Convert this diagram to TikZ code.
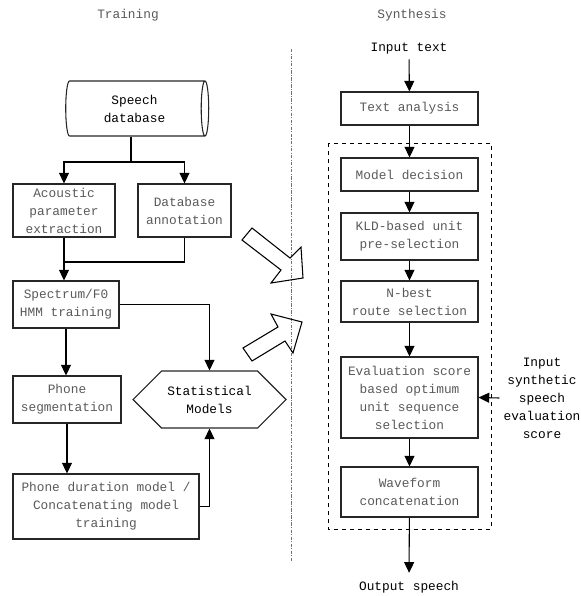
\documentclass[tikz,border=0pt]{standalone}
\usepackage{fontspec}
\setmainfont{Liberation Mono}
\usetikzlibrary{positioning,shapes.geometric,shapes.symbols,arrows.meta}

\begin{document}
\begin{tikzpicture}[x=0.75pt,y=-0.75pt,
    font=\fontsize{9.6}{13.5}\selectfont,
    procbox/.style={draw=black!85,line width=0.8pt,rectangle,align=center,text=black!65,inner sep=1pt},
    arr/.style={-{Triangle[width=7.5pt,length=8pt]},line width=0.8pt},
    link/.style={line width=0.8pt}]
    \useasboundingbox (0,0) rectangle (581,596);

    % Headings and separator
    \node[text=black!65] (train) at (128,15) {Training};
    \node[text=black!65] (synth) at (412,15) {Synthesis};
    \draw[black!55,line width=0.7pt,dash pattern=on 2.5pt off 1pt on 0.8pt off 1pt] (291,49) -- (291,562);

    % Nodes (training)
    \node[cylinder,draw=black!85,line width=0.8pt,aspect=0.25,align=center,
          minimum width=41.25pt,minimum height=107.25pt,inner sep=1pt] (db) at (134.5,108.5) {Speech\\database};
    \node[procbox,minimum width=76.5pt,minimum height=39.75pt] (acoustic) at (64,210.5) {Acoustic\\parameter\\extraction};
    \node[procbox,minimum width=69.75pt,minimum height=39.75pt] (annot) at (184.5,210.5) {Database\\annotation};
    \node[procbox,minimum width=79.5pt,minimum height=35.25pt] (spec) at (66,304.5) {Spectrum/F0\\HMM training};
    \node[procbox,minimum width=81pt,minimum height=35.25pt] (seg) at (67,399.5) {Phone\\segmentation};
    \node[procbox,minimum width=139.5pt,minimum height=48.75pt] (dur) at (106,506.5) {Phone duration model /\\Concatenating model\\training};
    \node[signal,signal to=west and east,signal pointer angle=90,draw=black!85,line width=0.8pt,align=center,
          minimum width=114.75pt,minimum height=42.75pt,inner sep=1pt] (stat) at (209.5,399.5) {Statistical\\Models};

    \coordinate (split) at (131,162);
    \coordinate (merge) at (64,262);

    % Nodes (synthesis)
    \node (intext) at (409,49) {Input text};
    \node[procbox,minimum width=102.75pt,minimum height=24.75pt] (ta) at (409.5,108.5) {Text analysis};
    \node[procbox,minimum width=102.75pt,minimum height=24.75pt] (model) at (409.5,174.5) {Model decision};
    \node[procbox,minimum width=102.75pt,minimum height=35.25pt] (kld) at (409.5,236.5) {KLD-based unit\\pre-selection};
    \node[procbox,minimum width=102.75pt,minimum height=30.75pt] (nbest) at (409.5,301.5) {N-best\\route selection};
    \node[procbox,minimum width=102.75pt,minimum height=60.75pt] (eval) at (409.5,397.5) {Evaluation score\\based optimum\\unit sequence\\selection};
    \node[procbox,minimum width=102.75pt,minimum height=37.5pt] (wave) at (409.5,492) {Waveform\\concatenation};
    \node[inner sep=6pt] (outsp) at (409,587) {Output speech};
    \node[align=center,inner sep=3pt] (score) at (542,398) {Input\\synthetic\\speech\\evaluation\\score};
    \draw[dashed,line width=0.7pt] (328,143) rectangle (491,529);

    % Arrows (training)
    \draw[link] (split |- db.south) -- (split);
    \draw[arr] (split) -| (acoustic.north);
    \draw[arr] (split) -| (annot.north);
    \draw[arr] (acoustic.south) -- (acoustic.south |- spec.north);
    \draw[link] (annot.south) |- (merge);
    \draw[arr] (spec.south) -- (spec.south |- seg.north);
    \draw[arr] (seg.south) -- (seg.south |- dur.north);
    \draw[arr] (spec.east) -| (stat.north);
    \draw[arr] (dur.east) -| (stat.south);

    % Hollow arrows to synthesis
    \draw[line width=0.8pt] (252,228) -- (290,258) -- (301,247) -- (303,278) -- (271,283) -- (281,270) -- (242,240) -- cycle;
    \draw[line width=0.8pt] (243,348) -- (278,327) -- (271,314) -- (302,322) -- (293,353) -- (285,341) -- (252,361) -- cycle;

    % Arrows (synthesis)
    \draw[arr] (intext) -- (ta);
    \draw[arr] (ta) -- (model);
    \draw[arr] (model) -- (kld);
    \draw[arr] (kld) -- (nbest);
    \draw[arr] (nbest) -- (eval);
    \draw[arr] (eval) -- (wave);
    \draw[arr] (wave) -- (outsp);
    \draw[arr] (score.west) -- (eval.east);
\end{tikzpicture}
\end{document}
